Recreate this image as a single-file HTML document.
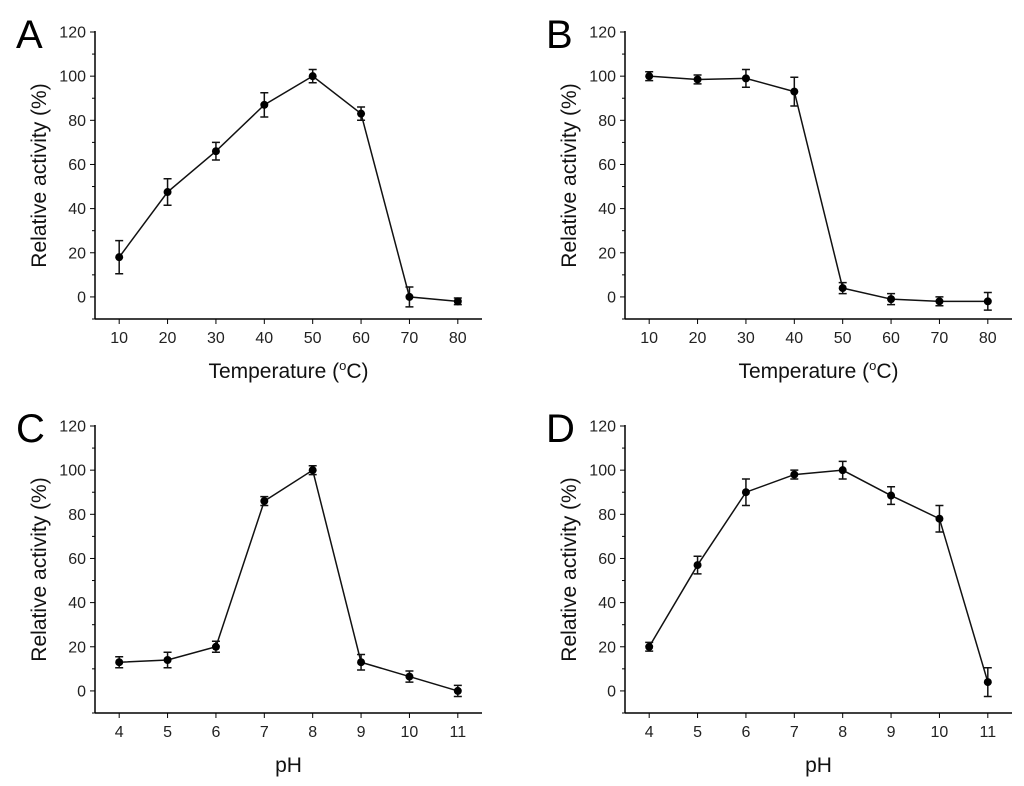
<!DOCTYPE html>
<html><head><meta charset="utf-8"><style>
body{margin:0;background:#fff}
svg{display:block;font-family:"Liberation Sans",Arial,sans-serif}
</style></head><body>
<svg id="fig" width="1024" height="786" viewBox="0 0 1024 786"></svg>
<script>
const tempCats=[10,20,30,40,50,60,70,80];
const phCats=[4,5,6,7,8,9,10,11];
const aVals=[18,47.5,66,87,100,83,0,-2];
const aErr=[7.5,6,4,5.5,3,3,4.5,1.5];
const bVals=[100,98.5,99,93,4,-1,-2,-2];
const bErr=[2,2,4,6.5,2.5,2.5,2,4];
const cVals=[13,14,20,86,100,13,6.5,0];
const cErr=[2.5,3.5,2.5,2,2,3.5,2.5,2.5];
const dVals=[20,57,90,98,100,88.5,78,4];
const dErr=[2,4,6,2,4,4,6,6.5];
const yTicks=[0,20,40,60,80,100,120];
const NS="http://www.w3.org/2000/svg";
const svg=document.getElementById('fig');
function mk(t,a,p){const e=document.createElementNS(NS,t);for(const k in a)e.setAttribute(k,a[k]);(p||svg).appendChild(e);return e;}
function panel(ox,oy,letter,cats,xmin,xmax,vals,errs,xtitle,isTemp){
  const g=mk('g',{transform:`translate(${ox},${oy})`});
  
  
  const L=95,R=482,T=32,B=319;
  const ymin=-10,ymax=120;
  const sx=v=>L+(v-xmin)/(xmax-xmin)*(R-L);
  const sy=v=>B-(v-ymin)/(ymax-ymin)*(B-T);
  const ya=mk('line',{x1:L,y1:T-1,x2:L,y2:B,stroke:'#000','stroke-width':1.5},g);
  
  const xa=mk('line',{x1:L,y1:B,x2:R,y2:B,stroke:'#000','stroke-width':1.5},g);
  
  for(let v=-10;v<=120;v+=10){
    const major=yTicks.includes(v);
    mk('line',{x1:L-(major?5:3),y1:sy(v),x2:L,y2:sy(v),stroke:'#000','stroke-width':1},g);
  }
  yTicks.forEach(v=>{const t=mk('text',{x:L-9,y:sy(v)+5.5,'text-anchor':'end','font-size':16,fill:'#222'},g);t.textContent=v;
    });
  cats.forEach(c=>{mk('line',{x1:sx(c),y1:B,x2:sx(c),y2:B+5,stroke:'#000','stroke-width':1},g);
    const t=mk('text',{x:sx(c),y:B+24,'text-anchor':'middle','font-size':16,fill:'#222'},g);t.textContent=c;
    });
  const yt=mk('text',{x:0,y:0,'text-anchor':'middle','font-size':21,fill:'#111',transform:`translate(46,${(T+B)/2}) rotate(-90)`},g);
  yt.textContent='Relative activity (%)';
  
  const xt=mk('text',{x:(L+R)/2,y:B+59,'text-anchor':'middle','font-size':21,fill:'#111'},g);
  if(isTemp){xt.innerHTML='Temperature (<tspan dy="-8" font-size="13">o</tspan><tspan dy="8">C)</tspan>';}
  else xt.textContent=xtitle;
  
  const lt=mk('text',{x:16,y:48,'font-size':40,fill:'#000'},g);lt.textContent=letter;
  
  const pts=cats.map((c,i)=>sx(c)+','+sy(vals[i])).join(' ');
  const pl=mk('polyline',{points:pts,fill:'none',stroke:'#111','stroke-width':1.5},g);
  
  cats.forEach((c,i)=>{
    const x=sx(c),y1=sy(vals[i]+errs[i]),y2=sy(vals[i]-errs[i]);
    const eb=mk('path',{d:`M${x},${y1}V${y2}M${x-4},${y1}H${x+4}M${x-4},${y2}H${x+4}`,stroke:'#111','stroke-width':1.5,fill:'none'},g);
    
    const p=mk('circle',{cx:x,cy:sy(vals[i]),r:4,fill:'#000'},g);
    
  });
}
panel(0,0,'A',tempCats,5,85,aVals,aErr,'',true);
panel(530,0,'B',tempCats,5,85,bVals,bErr,'',true);
panel(0,394,'C',phCats,3.5,11.5,cVals,cErr,'pH',false);
panel(530,394,'D',phCats,3.5,11.5,dVals,dErr,'pH',false);
</script>
</body></html>
